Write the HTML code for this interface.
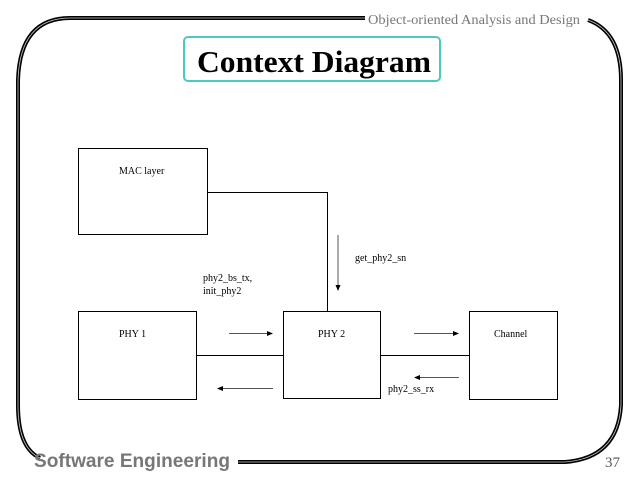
<!DOCTYPE html>
<html><head><style>
body{margin:0;background:#fff;}
svg{display:block;}
text{font-family:"Liberation Serif",serif;}
</style></head><body>
<svg width="638" height="479" viewBox="0 0 638 479" xmlns="http://www.w3.org/2000/svg">
<defs>
<marker id="ah" markerWidth="6" markerHeight="6" refX="5" refY="3" orient="auto" markerUnits="userSpaceOnUse"><path d="M0,0.5 L6,3 L0,5.5 z" fill="#000"/></marker>
</defs>
<g fill="none" stroke="#000" stroke-width="4">
<path d="M365,18 H70 Q20,18 18,80 V405 Q18,448 40,458"/>
<path d="M238,462 H565 Q618,458 621,405 V80 Q621,32 588,20"/>
</g>
<g fill="none" stroke="#ccc" stroke-width="0.8">
<path d="M365,18 H70 Q20,18 18,80 V405 Q18,448 40,458"/>
<path d="M238,462 H565 Q618,458 621,405 V80 Q621,32 588,20"/>
</g>
<text x="368" y="24" font-size="14" fill="#777" textLength="212" lengthAdjust="spacingAndGlyphs">Object-oriented Analysis and Design</text>
<text x="34" y="467" font-size="19" font-weight="bold" fill="#777" style="font-family:'Liberation Sans',sans-serif" textLength="196" lengthAdjust="spacingAndGlyphs">Software Engineering</text>
<text x="605" y="467" font-size="15" fill="#555">37</text>
<rect x="184" y="37" width="256" height="44" rx="4" fill="#fff" stroke="#4cc9c4" stroke-width="2"/>
<text x="197" y="72" font-size="31" font-weight="bold" textLength="234" lengthAdjust="spacingAndGlyphs">Context Diagram</text>
<g fill="none" stroke="#000" stroke-width="1">
<rect x="78.5" y="148.5" width="129" height="86"/>
<rect x="78.5" y="311.5" width="118" height="88"/>
<rect x="283.5" y="311.5" width="97" height="87"/>
<rect x="469.5" y="311.5" width="88" height="88"/>
<path d="M207,192.5 H327.5 V311"/>
<path d="M196,355.5 H283"/>
<path d="M381,355.5 H469"/>
</g>
<g stroke="#555" stroke-width="1" marker-end="url(#ah)">
<line x1="338" y1="235" x2="338" y2="290"/>
<line x1="229" y1="333.5" x2="272" y2="333.5"/>
<line x1="414" y1="333.5" x2="458" y2="333.5"/>
<line x1="273" y1="388.5" x2="218" y2="388.5"/>
<line x1="459" y1="377.5" x2="415" y2="377.5"/>
</g>
<g font-size="10">
<text x="119" y="174">MAC layer</text>
<text x="119" y="337">PHY 1</text>
<text x="318" y="337">PHY 2</text>
<text x="494" y="337">Channel</text>
<text x="355" y="261">get_phy2_sn</text>
<text x="203" y="281">phy2_bs_tx,</text>
<text x="203" y="294">init_phy2</text>
<text x="388" y="392">phy2_ss_rx</text>
</g>
</svg>
</body></html>
